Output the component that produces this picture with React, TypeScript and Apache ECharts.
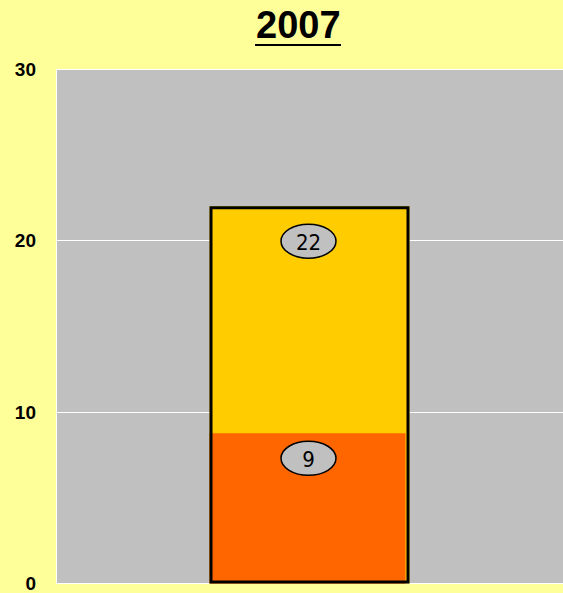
import React, { useEffect, useRef } from "react";
import * as echarts from "echarts";

const categories = ["2007"];
const totalValues = [22];
const lowerValues = [8.76];
const yTicks = [0, 10, 20, 30];

export default function App() {
  const ref = useRef<HTMLDivElement>(null);
  useEffect(() => {
    if (!ref.current) return;
    document.body.style.margin = "0";
    const chart = echarts.init(ref.current, null, { renderer: "svg", width: 563, height: 593 });
    const font = "'Liberation Sans', Arial, sans-serif";
    const labelSeries = (values: number[], offset: number, z: number) => ({
      type: "custom",
      z,
      data: values.map((v, i) => [i, v]),
      renderItem: (params: any, api: any) => {
        const v = api.value(1);
        const p = api.coord([api.value(0), v]);
        const cy = p[1] + offset;
        return {
          type: "group",
          children: [
            {
              type: "ellipse",
              shape: { cx: p[0] - 1, cy, rx: 27.5, ry: 17 },
              style: { fill: "#C0C0C0", stroke: "#000", lineWidth: 1.5 },
            },
            {
              type: "text",
              style: {
                text: String(Math.round(v)),
                x: p[0] - 1,
                y: cy + 1,
                align: "center",
                verticalAlign: "middle",
                font: `22px 'DejaVu Sans Condensed', 'DejaVu Sans', sans-serif`,
                fill: "#000",
              },
            },
          ],
        };
      },
    });
    chart.setOption({
      animation: false,
      backgroundColor: "#FFFF99",
      title: {
        text: categories[0],
        left: 251,
        top: 1,
        textStyle: { fontFamily: font, fontWeight: "bold", fontSize: 38, color: "#000" },
      },
      graphic: [
        {
          type: "line",
          shape: { x1: 255, y1: 45, x2: 341, y2: 45 },
          style: { stroke: "#000", lineWidth: 2 },
        },
      ],
      grid: {
        left: 56,
        right: 0,
        top: 69,
        bottom: 6,
        show: true,
        backgroundColor: "#C0C0C0",
        borderWidth: 0,
      },
      xAxis: {
        type: "category",
        data: categories,
        axisLine: { show: false },
        axisTick: { show: false },
        axisLabel: { show: false },
      },
      yAxis: {
        type: "value",
        min: yTicks[0],
        max: yTicks[yTicks.length - 1],
        interval: 10,
        axisLine: { show: true, lineStyle: { color: "#FFFFFF", width: 1 } },
        axisTick: { show: false },
        splitLine: { show: true, lineStyle: { color: "#FFFFFF", width: 1 } },
        axisLabel: {
          margin: 20,
          fontFamily: font,
          fontWeight: "bold",
          fontSize: 19,
          color: "#000",
        },
      },
      series: [
        {
          type: "bar",
          data: totalValues,
          barWidth: 200,
          itemStyle: { color: "#FFCC00" },
          z: 2,
        },
        {
          type: "bar",
          data: lowerValues,
          barWidth: 196,
          barGap: "-100%",
          itemStyle: { color: "#FF6600" },
          z: 3,
        },
        {
          type: "bar",
          data: totalValues,
          barWidth: 200,
          barGap: "-100%",
          itemStyle: { color: "rgba(0,0,0,0)", borderColor: "#000", borderWidth: 3 },
          z: 4,
        },
        labelSeries(totalValues, 35, 5),
        labelSeries(lowerValues, 25, 5),
      ],
    });
    return () => chart.dispose();
  }, []);
  return <div ref={ref} style={{ width: 563, height: 593 }} />;
}
